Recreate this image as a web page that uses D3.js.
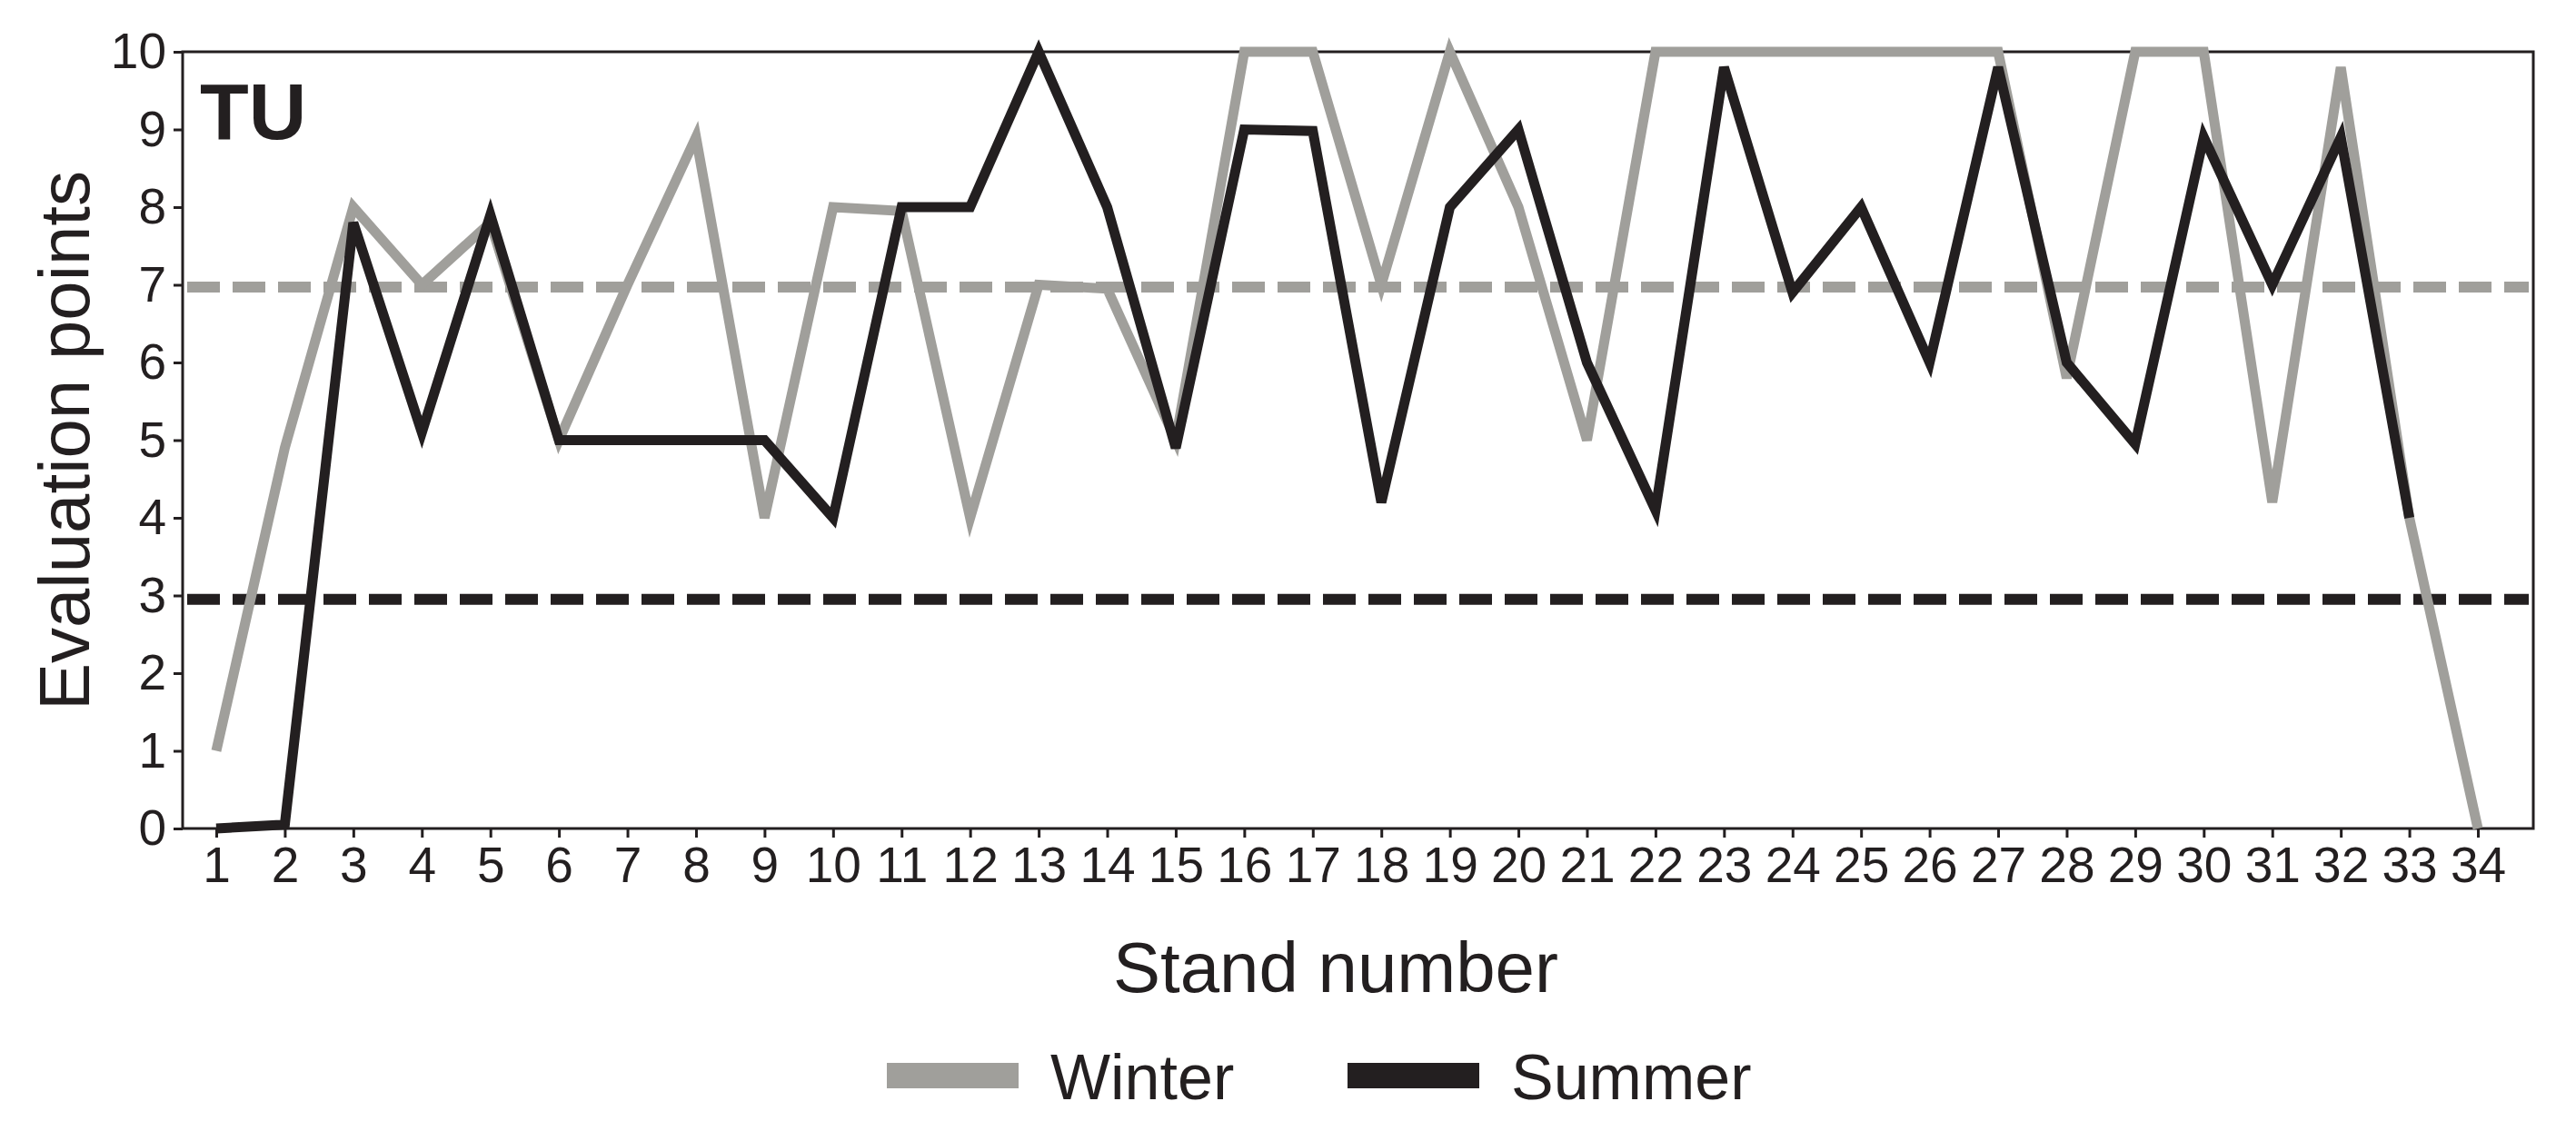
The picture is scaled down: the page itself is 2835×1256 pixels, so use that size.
<!DOCTYPE html><html><head><meta charset="utf-8"><script src="https://cdn.jsdelivr.net/npm/d3@7"></script>
<style>body{margin:0;background:#fff}</style></head><body><svg id="c" width="2835" height="1256"></svg>
<script>
const stands = d3.range(1,35);
const winter = [1,4.9,8,7,7.8,5,7,8.9,4,8,7.95,4,7,6.95,5,10,10,7,10,8,5,10,10,10,10,10,10,5.8,10,10,4.2,9.8,4,0];
const summer = [0,0.05,7.8,5.1,7.9,5,5,5,5,4,8,8,10,8,4.9,9,8.98,4.2,8,9,6,4.1,9.8,6.9,8,6,9.8,6,4.95,8.9,7,8.9,4];
const winterRef = 6.97, summerRef = 2.95;
const yTicks = d3.range(0,11);
const gray="#a09f9b", black="#231f20";
const svg=d3.select("#c");
const L=201,R=2788,T=57,B=912;
const x=d3.scaleLinear().domain([1,34]).range([238,2727]);
const y=d3.scaleLinear().domain([0,10]).range([B,T]);
const font="Arial, 'Liberation Sans', sans-serif";
svg.append("rect").attr("x",L).attr("y",T).attr("width",R-L).attr("height",B-T).attr("fill","none").attr("stroke",black).attr("stroke-width",3);
const ya=svg.append("g").attr("transform",`translate(${L},0)`).call(d3.axisLeft(y).tickValues(yTicks).tickSize(10).tickPadding(8));
ya.select(".domain").remove();
const xa=svg.append("g").attr("transform",`translate(0,${B})`).call(d3.axisBottom(x).tickValues(stands).tickFormat(d3.format("d")).tickSize(10).tickPadding(10));
xa.select(".domain").remove();
svg.selectAll(".tick text").attr("font-family",font).attr("font-size",55).attr("fill",black);
svg.selectAll(".tick line").attr("stroke",black).attr("stroke-width",3);
[[winterRef,gray],[summerRef,black]].forEach(([v,c])=>svg.append("line").attr("x1",L+5).attr("x2",R-5).attr("y1",y(v)).attr("y2",y(v)).attr("stroke",c).attr("stroke-width",12).attr("stroke-dasharray","36 14"));
const line=d3.line().x((d,i)=>x(stands[i])).y(d=>y(d));
svg.append("path").datum(winter).attr("d",line).attr("fill","none").attr("stroke",gray).attr("stroke-width",11).attr("stroke-linejoin","miter");
svg.append("path").datum(summer).attr("d",line).attr("fill","none").attr("stroke",black).attr("stroke-width",11).attr("stroke-linejoin","miter");
svg.append("text").attr("x",220).attr("y",153).attr("font-family",font).attr("font-weight","bold").attr("font-size",88).attr("fill",black).text("TU");
svg.append("text").attr("transform","translate(98,485) rotate(-90)").attr("text-anchor","middle").attr("font-family",font).attr("font-size",78).attr("fill",black).text("Evaluation points");
svg.append("text").attr("x",1470).attr("y",1092).attr("text-anchor","middle").attr("font-family",font).attr("font-size",78).attr("fill",black).text("Stand number");
[["Winter",gray,976],["Summer",black,1483]].forEach(([t,c,lx])=>{
 svg.append("rect").attr("x",lx).attr("y",1170).attr("width",145).attr("height",28).attr("fill",c);
 svg.append("text").attr("x",lx+180).attr("y",1210).attr("font-family",font).attr("font-size",70).attr("fill",black).text(t);
});
</script></body></html>
